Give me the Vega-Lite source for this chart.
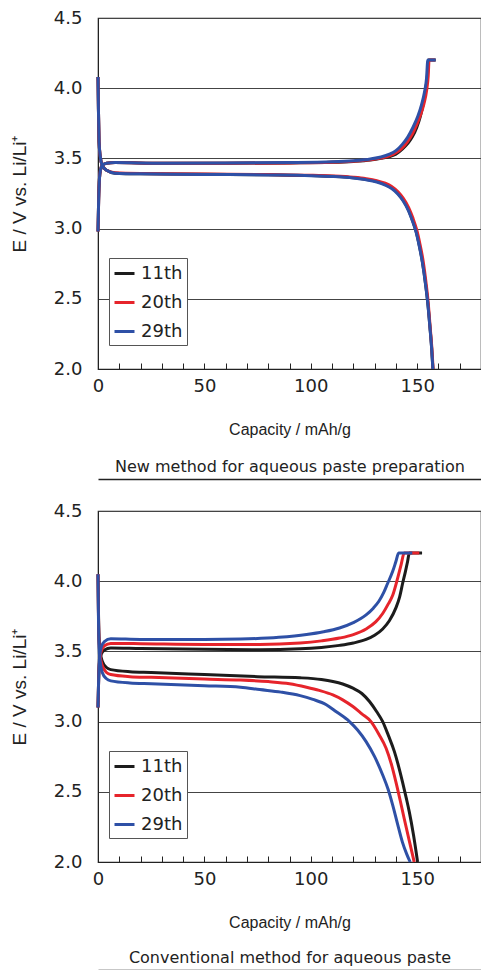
{
  "$schema": "https://vega.github.io/schema/vega-lite/v6.json",
  "padding": {"left": 9, "top": 8, "right": 0, "bottom": 0},
  "background": "white",
  "config": {
    "font": "Liberation Sans",
    "view": {"stroke": "#222", "strokeWidth": 1.2},
    "axis": {
      "labelFont": "DejaVu Sans", "labelFontSize": 18, "labelColor": "#222",
      "titleFont": "Liberation Sans", "titleFontSize": 16, "titleFontWeight": "normal", "titleColor": "#222",
      "domainColor": "#222", "tickColor": "#222"
    },
    "legend": {
      "orient": "none", "legendX": 11, "legendY": 240,
      "strokeColor": "#555", "fillColor": "white", "padding": 4,
      "symbolType": "stroke", "symbolSize": 400, "symbolStrokeWidth": 3,
      "labelFont": "DejaVu Sans", "labelFontSize": 18, "labelColor": "#222", "labelOffset": 5,
      "rowPadding": 8
    }
  },
  "data": {"values": [
    {"p":"new","c":"11th","b":"ch","x":0,"y":2.98},{"p":"new","c":"11th","b":"ch","x":0.3,"y":3.2},{"p":"new","c":"11th","b":"ch","x":0.7,"y":3.36},{"p":"new","c":"11th","b":"ch","x":1.2,"y":3.42},{"p":"new","c":"11th","b":"ch","x":2,"y":3.45},{"p":"new","c":"11th","b":"ch","x":4,"y":3.465},{"p":"new","c":"11th","b":"ch","x":8,"y":3.47},{"p":"new","c":"11th","b":"ch","x":30,"y":3.465},{"p":"new","c":"11th","b":"ch","x":60,"y":3.465},{"p":"new","c":"11th","b":"ch","x":90,"y":3.468},{"p":"new","c":"11th","b":"ch","x":110,"y":3.472},{"p":"new","c":"11th","b":"ch","x":120,"y":3.478},{"p":"new","c":"11th","b":"ch","x":128,"y":3.488},{"p":"new","c":"11th","b":"ch","x":133,"y":3.5},{"p":"new","c":"11th","b":"ch","x":137,"y":3.513},{"p":"new","c":"11th","b":"ch","x":140,"y":3.53},{"p":"new","c":"11th","b":"ch","x":143,"y":3.565},{"p":"new","c":"11th","b":"ch","x":145.5,"y":3.605},{"p":"new","c":"11th","b":"ch","x":147.8,"y":3.655},{"p":"new","c":"11th","b":"ch","x":149.8,"y":3.72},{"p":"new","c":"11th","b":"ch","x":151.5,"y":3.8},{"p":"new","c":"11th","b":"ch","x":152.9,"y":3.89},{"p":"new","c":"11th","b":"ch","x":154,"y":3.99},{"p":"new","c":"11th","b":"ch","x":154.8,"y":4.09},{"p":"new","c":"11th","b":"ch","x":155.4,"y":4.2},{"p":"new","c":"11th","b":"ch","x":158.7,"y":4.2},
    {"p":"new","c":"11th","b":"dis","x":0,"y":4.08},{"p":"new","c":"11th","b":"dis","x":0.2,"y":3.85},{"p":"new","c":"11th","b":"dis","x":0.5,"y":3.62},{"p":"new","c":"11th","b":"dis","x":1,"y":3.52},{"p":"new","c":"11th","b":"dis","x":2,"y":3.45},{"p":"new","c":"11th","b":"dis","x":4,"y":3.415},{"p":"new","c":"11th","b":"dis","x":8,"y":3.395},{"p":"new","c":"11th","b":"dis","x":20,"y":3.39},{"p":"new","c":"11th","b":"dis","x":50,"y":3.387},{"p":"new","c":"11th","b":"dis","x":80,"y":3.383},{"p":"new","c":"11th","b":"dis","x":100,"y":3.378},{"p":"new","c":"11th","b":"dis","x":110,"y":3.372},{"p":"new","c":"11th","b":"dis","x":120,"y":3.362},{"p":"new","c":"11th","b":"dis","x":126,"y":3.35},{"p":"new","c":"11th","b":"dis","x":131,"y":3.335},{"p":"new","c":"11th","b":"dis","x":135,"y":3.315},{"p":"new","c":"11th","b":"dis","x":138,"y":3.29},{"p":"new","c":"11th","b":"dis","x":141,"y":3.25},{"p":"new","c":"11th","b":"dis","x":143.5,"y":3.2},{"p":"new","c":"11th","b":"dis","x":146,"y":3.13},{"p":"new","c":"11th","b":"dis","x":148,"y":3.05},{"p":"new","c":"11th","b":"dis","x":149.5,"y":2.98},{"p":"new","c":"11th","b":"dis","x":151,"y":2.88},{"p":"new","c":"11th","b":"dis","x":152.5,"y":2.76},{"p":"new","c":"11th","b":"dis","x":154,"y":2.6},{"p":"new","c":"11th","b":"dis","x":155,"y":2.47},{"p":"new","c":"11th","b":"dis","x":156,"y":2.3},{"p":"new","c":"11th","b":"dis","x":156.8,"y":2.15},{"p":"new","c":"11th","b":"dis","x":157.4,"y":2.0},
    {"p":"new","c":"20th","b":"ch","x":0,"y":2.98},{"p":"new","c":"20th","b":"ch","x":0.3,"y":3.2},{"p":"new","c":"20th","b":"ch","x":0.7,"y":3.36},{"p":"new","c":"20th","b":"ch","x":1.2,"y":3.42},{"p":"new","c":"20th","b":"ch","x":2,"y":3.45},{"p":"new","c":"20th","b":"ch","x":4,"y":3.465},{"p":"new","c":"20th","b":"ch","x":8,"y":3.47},{"p":"new","c":"20th","b":"ch","x":30,"y":3.465},{"p":"new","c":"20th","b":"ch","x":60,"y":3.465},{"p":"new","c":"20th","b":"ch","x":90,"y":3.468},{"p":"new","c":"20th","b":"ch","x":110,"y":3.473},{"p":"new","c":"20th","b":"ch","x":120,"y":3.48},{"p":"new","c":"20th","b":"ch","x":128,"y":3.49},{"p":"new","c":"20th","b":"ch","x":133,"y":3.502},{"p":"new","c":"20th","b":"ch","x":137,"y":3.518},{"p":"new","c":"20th","b":"ch","x":140,"y":3.54},{"p":"new","c":"20th","b":"ch","x":143,"y":3.575},{"p":"new","c":"20th","b":"ch","x":145.5,"y":3.62},{"p":"new","c":"20th","b":"ch","x":147.8,"y":3.675},{"p":"new","c":"20th","b":"ch","x":149.8,"y":3.74},{"p":"new","c":"20th","b":"ch","x":151.6,"y":3.81},{"p":"new","c":"20th","b":"ch","x":153.2,"y":3.89},{"p":"new","c":"20th","b":"ch","x":154.5,"y":3.99},{"p":"new","c":"20th","b":"ch","x":155.2,"y":4.09},{"p":"new","c":"20th","b":"ch","x":155.6,"y":4.2},{"p":"new","c":"20th","b":"ch","x":158.5,"y":4.2},
    {"p":"new","c":"20th","b":"dis","x":0,"y":4.08},{"p":"new","c":"20th","b":"dis","x":0.2,"y":3.85},{"p":"new","c":"20th","b":"dis","x":0.5,"y":3.62},{"p":"new","c":"20th","b":"dis","x":1,"y":3.52},{"p":"new","c":"20th","b":"dis","x":2,"y":3.45},{"p":"new","c":"20th","b":"dis","x":4,"y":3.415},{"p":"new","c":"20th","b":"dis","x":8,"y":3.397},{"p":"new","c":"20th","b":"dis","x":20,"y":3.392},{"p":"new","c":"20th","b":"dis","x":50,"y":3.389},{"p":"new","c":"20th","b":"dis","x":80,"y":3.385},{"p":"new","c":"20th","b":"dis","x":100,"y":3.38},{"p":"new","c":"20th","b":"dis","x":110,"y":3.375},{"p":"new","c":"20th","b":"dis","x":120,"y":3.366},{"p":"new","c":"20th","b":"dis","x":126,"y":3.356},{"p":"new","c":"20th","b":"dis","x":131,"y":3.342},{"p":"new","c":"20th","b":"dis","x":135,"y":3.323},{"p":"new","c":"20th","b":"dis","x":138,"y":3.3},{"p":"new","c":"20th","b":"dis","x":141,"y":3.262},{"p":"new","c":"20th","b":"dis","x":143.5,"y":3.215},{"p":"new","c":"20th","b":"dis","x":146,"y":3.15},{"p":"new","c":"20th","b":"dis","x":148,"y":3.075},{"p":"new","c":"20th","b":"dis","x":149.8,"y":2.99},{"p":"new","c":"20th","b":"dis","x":151.3,"y":2.89},{"p":"new","c":"20th","b":"dis","x":152.8,"y":2.77},{"p":"new","c":"20th","b":"dis","x":154.2,"y":2.61},{"p":"new","c":"20th","b":"dis","x":155.2,"y":2.47},{"p":"new","c":"20th","b":"dis","x":156.1,"y":2.3},{"p":"new","c":"20th","b":"dis","x":156.9,"y":2.15},{"p":"new","c":"20th","b":"dis","x":157.5,"y":2.0},
    {"p":"new","c":"29th","b":"ch","x":0,"y":2.98},{"p":"new","c":"29th","b":"ch","x":0.3,"y":3.2},{"p":"new","c":"29th","b":"ch","x":0.7,"y":3.36},{"p":"new","c":"29th","b":"ch","x":1.2,"y":3.42},{"p":"new","c":"29th","b":"ch","x":2,"y":3.45},{"p":"new","c":"29th","b":"ch","x":4,"y":3.465},{"p":"new","c":"29th","b":"ch","x":8,"y":3.47},{"p":"new","c":"29th","b":"ch","x":30,"y":3.466},{"p":"new","c":"29th","b":"ch","x":60,"y":3.467},{"p":"new","c":"29th","b":"ch","x":90,"y":3.47},{"p":"new","c":"29th","b":"ch","x":110,"y":3.476},{"p":"new","c":"29th","b":"ch","x":120,"y":3.484},{"p":"new","c":"29th","b":"ch","x":128,"y":3.496},{"p":"new","c":"29th","b":"ch","x":133,"y":3.51},{"p":"new","c":"29th","b":"ch","x":137,"y":3.53},{"p":"new","c":"29th","b":"ch","x":140,"y":3.555},{"p":"new","c":"29th","b":"ch","x":143,"y":3.6},{"p":"new","c":"29th","b":"ch","x":145.5,"y":3.65},{"p":"new","c":"29th","b":"ch","x":148,"y":3.72},{"p":"new","c":"29th","b":"ch","x":150.3,"y":3.8},{"p":"new","c":"29th","b":"ch","x":152,"y":3.88},{"p":"new","c":"29th","b":"ch","x":153.4,"y":3.97},{"p":"new","c":"29th","b":"ch","x":154.4,"y":4.07},{"p":"new","c":"29th","b":"ch","x":155,"y":4.2},{"p":"new","c":"29th","b":"ch","x":158.7,"y":4.2},
    {"p":"new","c":"29th","b":"dis","x":0,"y":4.08},{"p":"new","c":"29th","b":"dis","x":0.2,"y":3.85},{"p":"new","c":"29th","b":"dis","x":0.5,"y":3.62},{"p":"new","c":"29th","b":"dis","x":1,"y":3.52},{"p":"new","c":"29th","b":"dis","x":2,"y":3.45},{"p":"new","c":"29th","b":"dis","x":4,"y":3.415},{"p":"new","c":"29th","b":"dis","x":8,"y":3.395},{"p":"new","c":"29th","b":"dis","x":20,"y":3.39},{"p":"new","c":"29th","b":"dis","x":50,"y":3.386},{"p":"new","c":"29th","b":"dis","x":80,"y":3.382},{"p":"new","c":"29th","b":"dis","x":100,"y":3.377},{"p":"new","c":"29th","b":"dis","x":110,"y":3.371},{"p":"new","c":"29th","b":"dis","x":120,"y":3.36},{"p":"new","c":"29th","b":"dis","x":126,"y":3.348},{"p":"new","c":"29th","b":"dis","x":131,"y":3.332},{"p":"new","c":"29th","b":"dis","x":135,"y":3.31},{"p":"new","c":"29th","b":"dis","x":138,"y":3.285},{"p":"new","c":"29th","b":"dis","x":141,"y":3.245},{"p":"new","c":"29th","b":"dis","x":143.5,"y":3.195},{"p":"new","c":"29th","b":"dis","x":146,"y":3.125},{"p":"new","c":"29th","b":"dis","x":148,"y":3.045},{"p":"new","c":"29th","b":"dis","x":149.5,"y":2.975},{"p":"new","c":"29th","b":"dis","x":151,"y":2.875},{"p":"new","c":"29th","b":"dis","x":152.5,"y":2.755},{"p":"new","c":"29th","b":"dis","x":154,"y":2.595},{"p":"new","c":"29th","b":"dis","x":155,"y":2.465},{"p":"new","c":"29th","b":"dis","x":156,"y":2.295},{"p":"new","c":"29th","b":"dis","x":156.8,"y":2.145},{"p":"new","c":"29th","b":"dis","x":157.4,"y":2.0},

    {"p":"conv","c":"11th","b":"ch","x":0,"y":3.1},{"p":"conv","c":"11th","b":"ch","x":0.3,"y":3.3},{"p":"conv","c":"11th","b":"ch","x":0.7,"y":3.42},{"p":"conv","c":"11th","b":"ch","x":1.5,"y":3.48},{"p":"conv","c":"11th","b":"ch","x":3,"y":3.51},{"p":"conv","c":"11th","b":"ch","x":6,"y":3.525},{"p":"conv","c":"11th","b":"ch","x":20,"y":3.52},{"p":"conv","c":"11th","b":"ch","x":50,"y":3.515},{"p":"conv","c":"11th","b":"ch","x":76,"y":3.512},{"p":"conv","c":"11th","b":"ch","x":95,"y":3.518},{"p":"conv","c":"11th","b":"ch","x":105,"y":3.528},{"p":"conv","c":"11th","b":"ch","x":113.5,"y":3.543},{"p":"conv","c":"11th","b":"ch","x":120,"y":3.56},{"p":"conv","c":"11th","b":"ch","x":126,"y":3.585},{"p":"conv","c":"11th","b":"ch","x":130,"y":3.615},{"p":"conv","c":"11th","b":"ch","x":133.8,"y":3.66},{"p":"conv","c":"11th","b":"ch","x":137,"y":3.72},{"p":"conv","c":"11th","b":"ch","x":140,"y":3.81},{"p":"conv","c":"11th","b":"ch","x":141.8,"y":3.89},{"p":"conv","c":"11th","b":"ch","x":143.1,"y":3.98},{"p":"conv","c":"11th","b":"ch","x":144.5,"y":4.07},{"p":"conv","c":"11th","b":"ch","x":145.5,"y":4.14},{"p":"conv","c":"11th","b":"ch","x":146.3,"y":4.2},{"p":"conv","c":"11th","b":"ch","x":152.3,"y":4.2},
    {"p":"conv","c":"11th","b":"dis","x":0,"y":4.05},{"p":"conv","c":"11th","b":"dis","x":0.2,"y":3.8},{"p":"conv","c":"11th","b":"dis","x":0.5,"y":3.6},{"p":"conv","c":"11th","b":"dis","x":1,"y":3.5},{"p":"conv","c":"11th","b":"dis","x":2,"y":3.43},{"p":"conv","c":"11th","b":"dis","x":4,"y":3.385},{"p":"conv","c":"11th","b":"dis","x":6,"y":3.37},{"p":"conv","c":"11th","b":"dis","x":15,"y":3.355},{"p":"conv","c":"11th","b":"dis","x":25,"y":3.35},{"p":"conv","c":"11th","b":"dis","x":50,"y":3.335},{"p":"conv","c":"11th","b":"dis","x":75,"y":3.32},{"p":"conv","c":"11th","b":"dis","x":95,"y":3.312},{"p":"conv","c":"11th","b":"dis","x":105,"y":3.3},{"p":"conv","c":"11th","b":"dis","x":110.4,"y":3.286},{"p":"conv","c":"11th","b":"dis","x":115,"y":3.268},{"p":"conv","c":"11th","b":"dis","x":119.8,"y":3.238},{"p":"conv","c":"11th","b":"dis","x":124,"y":3.2},{"p":"conv","c":"11th","b":"dis","x":127.6,"y":3.143},{"p":"conv","c":"11th","b":"dis","x":131,"y":3.07},{"p":"conv","c":"11th","b":"dis","x":133.8,"y":3.0},{"p":"conv","c":"11th","b":"dis","x":136.5,"y":2.9},{"p":"conv","c":"11th","b":"dis","x":139.3,"y":2.786},{"p":"conv","c":"11th","b":"dis","x":141.3,"y":2.68},{"p":"conv","c":"11th","b":"dis","x":143.1,"y":2.571},{"p":"conv","c":"11th","b":"dis","x":144.8,"y":2.46},{"p":"conv","c":"11th","b":"dis","x":146.3,"y":2.357},{"p":"conv","c":"11th","b":"dis","x":148.3,"y":2.19},{"p":"conv","c":"11th","b":"dis","x":150.2,"y":2.0},
    {"p":"conv","c":"20th","b":"ch","x":0,"y":3.1},{"p":"conv","c":"20th","b":"ch","x":0.3,"y":3.3},{"p":"conv","c":"20th","b":"ch","x":0.7,"y":3.43},{"p":"conv","c":"20th","b":"ch","x":1.5,"y":3.5},{"p":"conv","c":"20th","b":"ch","x":3,"y":3.54},{"p":"conv","c":"20th","b":"ch","x":6,"y":3.557},{"p":"conv","c":"20th","b":"ch","x":20,"y":3.555},{"p":"conv","c":"20th","b":"ch","x":50,"y":3.55},{"p":"conv","c":"20th","b":"ch","x":76,"y":3.55},{"p":"conv","c":"20th","b":"ch","x":95,"y":3.56},{"p":"conv","c":"20th","b":"ch","x":105,"y":3.575},{"p":"conv","c":"20th","b":"ch","x":113.5,"y":3.595},{"p":"conv","c":"20th","b":"ch","x":120,"y":3.62},{"p":"conv","c":"20th","b":"ch","x":126,"y":3.66},{"p":"conv","c":"20th","b":"ch","x":130.5,"y":3.71},{"p":"conv","c":"20th","b":"ch","x":133.8,"y":3.77},{"p":"conv","c":"20th","b":"ch","x":136.5,"y":3.84},{"p":"conv","c":"20th","b":"ch","x":138.5,"y":3.9},{"p":"conv","c":"20th","b":"ch","x":140.8,"y":4.02},{"p":"conv","c":"20th","b":"ch","x":142.5,"y":4.12},{"p":"conv","c":"20th","b":"ch","x":143.9,"y":4.2},{"p":"conv","c":"20th","b":"ch","x":151,"y":4.2},
    {"p":"conv","c":"20th","b":"dis","x":0,"y":4.05},{"p":"conv","c":"20th","b":"dis","x":0.2,"y":3.78},{"p":"conv","c":"20th","b":"dis","x":0.5,"y":3.57},{"p":"conv","c":"20th","b":"dis","x":1,"y":3.47},{"p":"conv","c":"20th","b":"dis","x":2,"y":3.4},{"p":"conv","c":"20th","b":"dis","x":4,"y":3.35},{"p":"conv","c":"20th","b":"dis","x":6,"y":3.335},{"p":"conv","c":"20th","b":"dis","x":15,"y":3.32},{"p":"conv","c":"20th","b":"dis","x":25,"y":3.315},{"p":"conv","c":"20th","b":"dis","x":50,"y":3.303},{"p":"conv","c":"20th","b":"dis","x":67,"y":3.296},{"p":"conv","c":"20th","b":"dis","x":80,"y":3.285},{"p":"conv","c":"20th","b":"dis","x":90,"y":3.27},{"p":"conv","c":"20th","b":"dis","x":98,"y":3.245},{"p":"conv","c":"20th","b":"dis","x":104,"y":3.222},{"p":"conv","c":"20th","b":"dis","x":110.4,"y":3.19},{"p":"conv","c":"20th","b":"dis","x":115,"y":3.155},{"p":"conv","c":"20th","b":"dis","x":119.8,"y":3.107},{"p":"conv","c":"20th","b":"dis","x":124,"y":3.055},{"p":"conv","c":"20th","b":"dis","x":128.3,"y":3.0},{"p":"conv","c":"20th","b":"dis","x":132,"y":2.91},{"p":"conv","c":"20th","b":"dis","x":135.4,"y":2.81},{"p":"conv","c":"20th","b":"dis","x":138,"y":2.69},{"p":"conv","c":"20th","b":"dis","x":140,"y":2.571},{"p":"conv","c":"20th","b":"dis","x":142,"y":2.44},{"p":"conv","c":"20th","b":"dis","x":143.9,"y":2.31},{"p":"conv","c":"20th","b":"dis","x":146.3,"y":2.15},{"p":"conv","c":"20th","b":"dis","x":148.6,"y":2.0},
    {"p":"conv","c":"29th","b":"ch","x":0,"y":3.1},{"p":"conv","c":"29th","b":"ch","x":0.3,"y":3.3},{"p":"conv","c":"29th","b":"ch","x":0.7,"y":3.45},{"p":"conv","c":"29th","b":"ch","x":1.5,"y":3.53},{"p":"conv","c":"29th","b":"ch","x":3,"y":3.57},{"p":"conv","c":"29th","b":"ch","x":6,"y":3.59},{"p":"conv","c":"29th","b":"ch","x":20,"y":3.585},{"p":"conv","c":"29th","b":"ch","x":50,"y":3.585},{"p":"conv","c":"29th","b":"ch","x":67,"y":3.588},{"p":"conv","c":"29th","b":"ch","x":85,"y":3.6},{"p":"conv","c":"29th","b":"ch","x":98,"y":3.62},{"p":"conv","c":"29th","b":"ch","x":106,"y":3.64},{"p":"conv","c":"29th","b":"ch","x":113.5,"y":3.667},{"p":"conv","c":"29th","b":"ch","x":120,"y":3.705},{"p":"conv","c":"29th","b":"ch","x":126,"y":3.76},{"p":"conv","c":"29th","b":"ch","x":129.5,"y":3.81},{"p":"conv","c":"29th","b":"ch","x":132,"y":3.857},{"p":"conv","c":"29th","b":"ch","x":134.3,"y":3.92},{"p":"conv","c":"29th","b":"ch","x":136,"y":3.98},{"p":"conv","c":"29th","b":"ch","x":138.5,"y":4.07},{"p":"conv","c":"29th","b":"ch","x":140,"y":4.14},{"p":"conv","c":"29th","b":"ch","x":141.3,"y":4.2},{"p":"conv","c":"29th","b":"ch","x":147.7,"y":4.2},
    {"p":"conv","c":"29th","b":"dis","x":0,"y":4.05},{"p":"conv","c":"29th","b":"dis","x":0.2,"y":3.76},{"p":"conv","c":"29th","b":"dis","x":0.5,"y":3.53},{"p":"conv","c":"29th","b":"dis","x":1,"y":3.43},{"p":"conv","c":"29th","b":"dis","x":2,"y":3.35},{"p":"conv","c":"29th","b":"dis","x":4,"y":3.305},{"p":"conv","c":"29th","b":"dis","x":6,"y":3.29},{"p":"conv","c":"29th","b":"dis","x":15,"y":3.275},{"p":"conv","c":"29th","b":"dis","x":25,"y":3.27},{"p":"conv","c":"29th","b":"dis","x":50,"y":3.256},{"p":"conv","c":"29th","b":"dis","x":67,"y":3.245},{"p":"conv","c":"29th","b":"dis","x":76,"y":3.228},{"p":"conv","c":"29th","b":"dis","x":86,"y":3.21},{"p":"conv","c":"29th","b":"dis","x":95,"y":3.185},{"p":"conv","c":"29th","b":"dis","x":101,"y":3.158},{"p":"conv","c":"29th","b":"dis","x":107.3,"y":3.12},{"p":"conv","c":"29th","b":"dis","x":112,"y":3.07},{"p":"conv","c":"29th","b":"dis","x":118.2,"y":3.0},{"p":"conv","c":"29th","b":"dis","x":122,"y":2.94},{"p":"conv","c":"29th","b":"dis","x":126,"y":2.857},{"p":"conv","c":"29th","b":"dis","x":130,"y":2.75},{"p":"conv","c":"29th","b":"dis","x":133.8,"y":2.62},{"p":"conv","c":"29th","b":"dis","x":136.3,"y":2.52},{"p":"conv","c":"29th","b":"dis","x":138.5,"y":2.405},{"p":"conv","c":"29th","b":"dis","x":140.8,"y":2.27},{"p":"conv","c":"29th","b":"dis","x":143.1,"y":2.14},{"p":"conv","c":"29th","b":"dis","x":145,"y":2.06},{"p":"conv","c":"29th","b":"dis","x":146.7,"y":2.0}
  ]},
  "resolve": {"legend": {"color": "independent"}},
  "spacing": 21,
  "vconcat": [
    {
      "width": 383, "height": 351,
      "transform": [{"filter": "datum.p === 'new'"}],
      "resolve": {"scale": {"x": "independent"}, "axis": {"x": "independent"}},
      "layer": [
        {
          "mark": {"type": "line", "strokeWidth": 3, "interpolate": "monotone"},
          "encoding": {
            "x": {"field": "x", "type": "quantitative", "scale": {"domain": [0, 180], "nice": false},
                  "axis": {"orient": "bottom", "title": "Capacity / mAh/g", "values": [0,10,20,30,40,50,60,70,80,90,100,110,120,130,140,150,160,170],
                           "labelExpr": "datum.value % 50 === 0 ? datum.label : ''", "grid": false, "tickSize": -6, "labelPadding": 14, "titlePadding": 26, "labelFlush": false}},
            "y": {"field": "y", "type": "quantitative", "scale": {"domain": [2, 4.5], "nice": false, "zero": false},
                  "axis": {"title": "E / V vs. Li/Li⁺", "titleFontSize": 19, "values": [2,2.5,3,3.5,4,4.5], "format": ".1f", "grid": true, "gridColor": "#444", "gridWidth": 1, "ticks": false, "labelPadding": 16, "titlePadding": 24}},
            "color": {"field": "c", "type": "nominal", "scale": {"domain": ["11th","20th","29th"], "range": ["#1c1c1c","#e6242b","#2e50a6"]}, "legend": {"title": null, "labelExpr": "datum.label + '\u00a0\u00a0'"}},
            "detail": {"field": "b"}
          }
        },
        {
          "mark": {"type": "point", "opacity": 0},
          "encoding": {
            "x": {"field": "x", "type": "quantitative", "scale": {"domain": [0, 180], "nice": false},
                  "axis": {"orient": "bottom", "offset": 110, "title": "New method for aqueous paste preparation",
                           "titleFont": "DejaVu Sans", "titleFontSize": 16, "titleBaseline": "alphabetic", "titleY": -8,
                           "labels": false, "ticks": false, "grid": false, "domain": true, "domainWidth": 1.6, "domainColor": "#222"}}
          }
        }
      ]
    },
    {
      "width": 383, "height": 351,
      "transform": [{"filter": "datum.p === 'conv'"}],
      "resolve": {"scale": {"x": "independent"}, "axis": {"x": "independent"}},
      "layer": [
        {
          "mark": {"type": "line", "strokeWidth": 3, "interpolate": "monotone"},
          "encoding": {
            "x": {"field": "x", "type": "quantitative", "scale": {"domain": [0, 180], "nice": false},
                  "axis": {"orient": "bottom", "title": "Capacity / mAh/g", "values": [0,10,20,30,40,50,60,70,80,90,100,110,120,130,140,150,160,170],
                           "labelExpr": "datum.value % 50 === 0 ? datum.label : ''", "grid": false, "tickSize": -6, "labelPadding": 14, "titlePadding": 26, "labelFlush": false}},
            "y": {"field": "y", "type": "quantitative", "scale": {"domain": [2, 4.5], "nice": false, "zero": false},
                  "axis": {"title": "E / V vs. Li/Li⁺", "titleFontSize": 19, "values": [2,2.5,3,3.5,4,4.5], "format": ".1f", "grid": true, "gridColor": "#444", "gridWidth": 1, "ticks": false, "labelPadding": 16, "titlePadding": 24}},
            "color": {"field": "c", "type": "nominal", "scale": {"domain": ["11th","20th","29th"], "range": ["#1c1c1c","#e6242b","#2e50a6"]}, "legend": {"title": null, "labelExpr": "datum.label + '\u00a0\u00a0'"}},
            "detail": {"field": "b"}
          }
        },
        {
          "mark": {"type": "point", "opacity": 0},
          "encoding": {
            "x": {"field": "x", "type": "quantitative", "scale": {"domain": [0, 180], "nice": false},
                  "axis": {"orient": "bottom", "offset": 108, "title": "Conventional method for aqueous paste",
                           "titleFont": "DejaVu Sans", "titleFontSize": 16, "titleBaseline": "alphabetic", "titleY": -8,
                           "labels": false, "ticks": false, "grid": false, "domain": true, "domainWidth": 1.6, "domainColor": "#222"}}
          }
        }
      ]
    }
  ]
}
